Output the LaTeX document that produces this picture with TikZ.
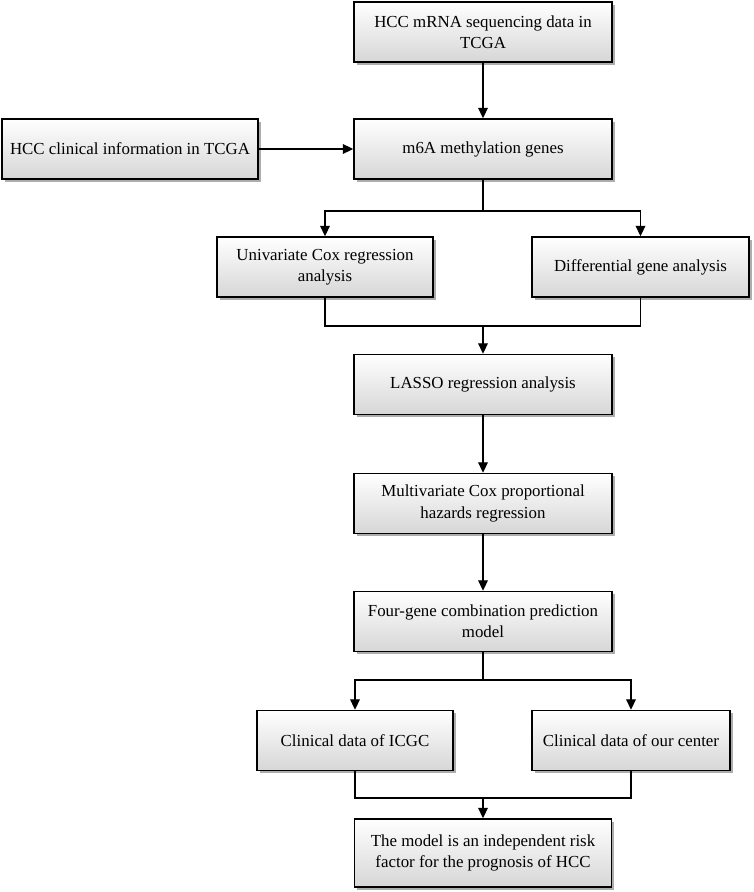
\documentclass[tikz,border=0pt]{standalone}
\usepackage{fontspec}
\setmainfont{Liberation Serif}
\usepackage{tikz}
\usetikzlibrary{arrows.meta, shadows}

\begin{document}
\begin{tikzpicture}[
        box/.style={draw, line width=0.8pt, align=center, font=\fontsize{9.6}{12}\selectfont,
            minimum height=1.2cm, inner sep=2pt,
            top color=white, bottom color=black!16,
            drop shadow={shadow xshift=1.6pt, shadow yshift=-1.6pt, fill=black!40, opacity=0.8}},
        line/.style={line width=0.8pt},
        arr/.style={line width=0.8pt, -{Triangle[width=5.5pt, length=6pt]}}
    ]
                \useasboundingbox (0,0) rectangle (15.06,-17.84);

                \node[box, minimum width=5.16cm] (Seq) at (9.66,-0.64) {HCC mRNA sequencing data in\\TCGA};
                \node[box, minimum width=5.16cm] (M6A) at (9.66,-2.98) {m6A methylation genes};
                \node[box, minimum width=5.12cm] (Clin) at (2.6,-2.98) {HCC clinical information in TCGA};

                \node[box, minimum width=4.32cm] (Uni) at (6.5,-5.34) {Univariate Cox regression\\analysis};
                \node[box, minimum width=4.34cm] (Diff) at (12.81,-5.34) {Differential gene analysis};

                \node[box, minimum width=5.16cm] (Lasso) at (9.66,-7.69) {LASSO regression analysis};
                \node[box, minimum width=5.16cm] (Multi) at (9.66,-10.07) {Multivariate Cox proportional\\hazards regression};
                \node[box, minimum width=5.16cm] (Four) at (9.66,-12.43) {Four-gene combination prediction\\model};

                \node[box, minimum width=3.92cm] (ICGC) at (7.1,-14.81) {Clinical data of ICGC};
                \node[box, minimum width=3.96cm] (Ours) at (12.62,-14.81) {Clinical data of our center};

                \node[box, minimum width=5.14cm, minimum height=1.36cm] (Model) at (9.66,-17.06) {The model is an independent risk\\factor for the prognosis of HCC};

                \coordinate (S1) at (9.66,-4.22);
                \coordinate (J1) at (9.66,-6.52);
                \coordinate (S2) at (9.66,-13.6);
                \coordinate (J2) at (9.66,-15.96);

                \draw[arr] (Seq) -- (M6A);
                \draw[arr] (Clin) -- (M6A);

                \draw[line] (M6A) -- (S1);
                \draw[arr] (S1) -| (Uni);
                \draw[arr] (S1) -| (Diff);
                \draw[line] (Uni) |- (J1) -| (Diff);
                \draw[arr] (J1) -- (Lasso);

                \draw[arr] (Lasso) -- (Multi);
                \draw[arr] (Multi) -- (Four);

                \draw[line] (Four) -- (S2);
                \draw[arr] (S2) -| (ICGC);
                \draw[arr] (S2) -| (Ours);
                \draw[line] (ICGC) |- (J2) -| (Ours);
                \draw[arr] (J2) -- (Model);
            \end{tikzpicture}
\end{document}
